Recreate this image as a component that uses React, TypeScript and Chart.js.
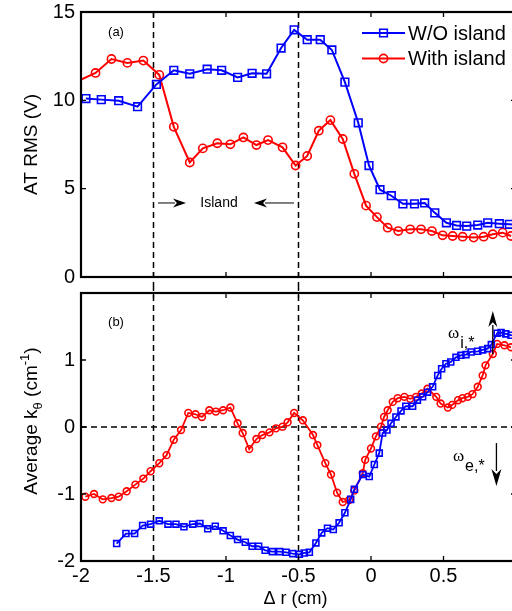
import React, { useEffect, useRef } from 'react';
import { Chart, registerables } from 'chart.js';

Chart.register(...registerables);

const SANS = '"Liberation Sans", Arial, Helvetica, sans-serif';
const SERIF = '"Liberation Serif", "Times New Roman", serif';
const BLUE = '#0000ff';
const RED = '#ff0000';

// ---------- data ----------
const seriesNames = ['W/O island', 'With island'];
const xTicks = [-2, -1.5, -1, -0.5, 0, 0.5, 1];
const islandEdges = [-1.5, -0.5];
const topYTicks = [0, 5, 10, 15];
const botYTicks = [-2, -1, 0, 1, 2];

// (a) AT RMS (V)
const topBlueX = [-1.966, -1.86, -1.74, -1.61, -1.48, -1.36, -1.25, -1.13, -1.03, -0.92, -0.82, -0.72, -0.62, -0.53, -0.44, -0.35, -0.27, -0.18, -0.088, -0.014, 0.062, 0.14, 0.22, 0.30, 0.37, 0.44, 0.52, 0.59, 0.66, 0.736, 0.805, 0.885, 0.954, 1.02];
const topBlueY = [10.1, 10.04, 9.98, 9.64, 10.9, 11.7, 11.5, 11.76, 11.7, 11.3, 11.53, 11.5, 12.96, 13.99, 13.43, 13.43, 12.85, 11.03, 8.73, 6.31, 4.94, 4.6, 4.14, 4.14, 4.19, 3.63, 3.07, 2.92, 2.88, 2.94, 3.07, 3.02, 2.98, 2.95];
const topRedX = [-2.07, -1.90, -1.79, -1.68, -1.57, -1.46, -1.36, -1.25, -1.16, -1.06, -0.97, -0.88, -0.79, -0.71, -0.61, -0.52, -0.44, -0.36, -0.28, -0.195, -0.115, -0.034, 0.041, 0.115, 0.188, 0.27, 0.345, 0.42, 0.494, 0.563, 0.632, 0.708, 0.777, 0.84, 0.908, 0.966];
const topRedY = [10.9, 11.55, 12.34, 12.12, 12.25, 11.44, 8.5, 6.48, 7.28, 7.57, 7.51, 7.9, 7.47, 7.75, 7.34, 6.31, 6.85, 8.28, 8.88, 7.81, 5.84, 4.04, 3.39, 2.79, 2.6, 2.7, 2.7, 2.6, 2.36, 2.32, 2.28, 2.23, 2.28, 2.42, 2.51, 2.32];

// (b) Average k_theta (cm^-1)
const botBlueX = [-1.754, -1.69, -1.63, -1.575, -1.52, -1.46, -1.40, -1.345, -1.29, -1.23, -1.18, -1.126, -1.074, -1.02, -0.97, -0.92, -0.867, -0.82, -0.775, -0.73, -0.68, -0.63, -0.586, -0.54, -0.494, -0.46, -0.425, -0.38, -0.34, -0.30, -0.26, -0.22, -0.18, -0.14, -0.115, -0.057, -0.012, 0.023, 0.057, 0.08, 0.11, 0.138, 0.172, 0.207, 0.24, 0.287, 0.32, 0.356, 0.39, 0.425, 0.46, 0.487, 0.517, 0.55, 0.586, 0.62, 0.655, 0.69, 0.736, 0.77, 0.805, 0.83, 0.87, 0.897, 0.93, 0.966, 1.0];
const botBlueY = [-1.74, -1.59, -1.59, -1.47, -1.45, -1.40, -1.45, -1.45, -1.49, -1.45, -1.44, -1.52, -1.48, -1.55, -1.62, -1.68, -1.72, -1.78, -1.78, -1.84, -1.86, -1.86, -1.87, -1.89, -1.9, -1.88, -1.87, -1.73, -1.58, -1.51, -1.53, -1.43, -1.28, -1.08, -0.93, -0.71, -0.74, -0.56, -0.39, -0.09, -0.045, 0.055, 0.15, 0.24, 0.31, 0.31, 0.40, 0.45, 0.52, 0.6, 0.77, 0.87, 0.945, 0.97, 1.04, 1.07, 1.08, 1.12, 1.13, 1.15, 1.17, 1.23, 1.40, 1.41, 1.39, 1.37, 1.36];
const botRedX = [-1.97, -1.91, -1.85, -1.79, -1.74, -1.685, -1.625, -1.57, -1.52, -1.46, -1.41, -1.36, -1.31, -1.26, -1.21, -1.166, -1.115, -1.07, -1.02, -0.97, -0.92, -0.885, -0.84, -0.79, -0.75, -0.70, -0.655, -0.61, -0.575, -0.53, -0.47, -0.40, -0.37, -0.315, -0.276, -0.234, -0.195, -0.15, -0.115, -0.057, -0.04, 0.0, 0.034, 0.069, 0.09, 0.115, 0.15, 0.184, 0.23, 0.27, 0.31, 0.35, 0.39, 0.45, 0.48, 0.53, 0.56, 0.60, 0.63, 0.667, 0.70, 0.736, 0.77, 0.79, 0.84, 0.87, 0.92, 0.966];
const botRedY = [-1.04, -1.0, -1.08, -1.06, -1.04, -0.96, -0.86, -0.77, -0.66, -0.54, -0.42, -0.19, -0.045, 0.21, 0.19, 0.15, 0.25, 0.23, 0.25, 0.29, 0.055, -0.09, -0.33, -0.18, -0.12, -0.08, -0.02, 0.005, 0.07, 0.21, 0.10, -0.12, -0.27, -0.54, -0.71, -0.98, -1.12, -1.09, -0.95, -0.69, -0.49, -0.32, -0.14, 0.005, 0.15, 0.25, 0.375, 0.43, 0.45, 0.42, 0.45, 0.5, 0.57, 0.45, 0.35, 0.29, 0.33, 0.40, 0.43, 0.45, 0.49, 0.6, 0.77, 0.92, 1.09, 1.24, 1.22, 1.19];

const zip = (xs: number[], ys: number[]) => xs.map((x, i) => ({ x, y: ys[i] }));

// ---------- layout ----------
const W = 525;
const TOP_H = 285;
const BOT_H = 326;
const PLOT_LEFT = 81;
const PLOT_RIGHT = 516;

function arrow(ctx: CanvasRenderingContext2D, x1: number, y1: number, x2: number, y2: number, headLen: number, halfW: number) {
  const ang = Math.atan2(y2 - y1, x2 - x1);
  const c = Math.cos(ang), s = Math.sin(ang);
  const bx = x2 - headLen * c, by = y2 - headLen * s;
  ctx.beginPath();
  ctx.moveTo(x1, y1);
  ctx.lineTo(bx + 2 * c, by + 2 * s);
  ctx.stroke();
  ctx.beginPath();
  ctx.moveTo(x2, y2);
  ctx.lineTo(bx - halfW * s, by + halfW * c);
  ctx.lineTo(bx + headLen * 0.3 * c, by + headLen * 0.3 * s);
  ctx.lineTo(bx + halfW * s, by - halfW * c);
  ctx.closePath();
  ctx.fill();
}

type Piece = { text: string; size: number; dy: number; family?: string };
function rotatedPieces(ctx: CanvasRenderingContext2D, cx: number, cy: number, pieces: Piece[]) {
  ctx.save();
  ctx.translate(cx, cy);
  ctx.rotate(-Math.PI / 2);
  ctx.textBaseline = 'alphabetic';
  ctx.textAlign = 'left';
  ctx.fillStyle = '#000';
  let total = 0;
  for (const p of pieces) {
    ctx.font = `${p.size}px ${p.family || SANS}`;
    total += ctx.measureText(p.text).width;
  }
  let x = -total / 2;
  for (const p of pieces) {
    ctx.font = `${p.size}px ${p.family || SANS}`;
    ctx.fillText(p.text, x, p.dy);
    x += ctx.measureText(p.text).width;
  }
  ctx.restore();
}

function frameAndTicks(chart: any, yTicks: number[]) {
  const { ctx, chartArea: a } = chart;
  const xs = chart.scales.x, ys = chart.scales.y;
  ctx.save();
  ctx.strokeStyle = '#000';
  ctx.lineWidth = 1.3;
  ctx.beginPath();
  for (const v of xTicks) {
    const px = xs.getPixelForValue(v);
    ctx.moveTo(px, a.bottom); ctx.lineTo(px, a.bottom - 5);
    ctx.moveTo(px, a.top); ctx.lineTo(px, a.top + 5);
  }
  for (const v of yTicks) {
    const py = ys.getPixelForValue(v);
    ctx.moveTo(a.left, py); ctx.lineTo(a.left + 5, py);
    ctx.moveTo(a.right, py); ctx.lineTo(a.right - 5, py);
  }
  ctx.stroke();
  ctx.lineWidth = 2.2;
  ctx.strokeRect(a.left, a.top, a.right - a.left, a.bottom - a.top);
  ctx.restore();
}

function dashedVerticals(chart: any, y1: number, y2: number) {
  const { ctx } = chart;
  const xs = chart.scales.x;
  ctx.save();
  ctx.strokeStyle = '#000';
  ctx.lineWidth = 1.5;
  ctx.setLineDash([6, 4]);
  ctx.beginPath();
  for (const v of islandEdges) {
    const px = xs.getPixelForValue(v);
    ctx.moveTo(px, y1); ctx.lineTo(px, y2);
  }
  ctx.stroke();
  ctx.restore();
}

function drawMarker(ctx: CanvasRenderingContext2D, style: string, x: number, y: number, r: number, color: string) {
  ctx.save();
  ctx.strokeStyle = color;
  ctx.lineWidth = 1.6;
  ctx.beginPath();
  if (style === 'rect') {
    const s = Math.SQRT1_2 * r;
    ctx.rect(x - s, y - s, 2 * s, 2 * s);
  } else {
    ctx.arc(x, y, r, 0, Math.PI * 2);
  }
  ctx.stroke();
  ctx.restore();
}

function omegaLabel(ctx: CanvasRenderingContext2D, x: number, y: number, sub: string, dy: number) {
  ctx.textAlign = 'left';
  ctx.textBaseline = 'alphabetic';
  ctx.font = `17px ${SERIF}`;
  ctx.fillText('\u03c9', x, y);
  const w = ctx.measureText('\u03c9').width;
  ctx.font = `16px ${SANS}`;
  ctx.fillText(sub, x + w + 1, y + dy);
}

const topPlugin = {
  id: 'topDecor',
  beforeDatasetsDraw(chart: any) {
    dashedVerticals(chart, chart.chartArea.top, chart.height);
  },
  afterDraw(chart: any) {
    const { ctx, chartArea: a } = chart;
    const xs = chart.scales.x, ys = chart.scales.y;
    frameAndTicks(chart, topYTicks);
    ctx.save();
    ctx.fillStyle = '#000';
    ctx.strokeStyle = '#000';
    ctx.font = `13px ${SANS}`;
    ctx.textAlign = 'center';
    ctx.textBaseline = 'middle';
    ctx.fillText('(a)', 116, 32);
    const iy = ys.getPixelForValue(4.19);
    ctx.font = `14px ${SANS}`;
    ctx.fillText('Island', xs.getPixelForValue(-1.048), iy);
    ctx.lineWidth = 1;
    arrow(ctx, xs.getPixelForValue(-1.469), iy, xs.getPixelForValue(-1.276), iy, 13, 4.5);
    arrow(ctx, xs.getPixelForValue(-0.531), iy, xs.getPixelForValue(-0.807), iy, 13, 4.5);
    rotatedPieces(ctx, 37, (a.top + a.bottom) / 2, [{ text: 'AT RMS (V)', size: 19, dy: 0 }]);
    const ds = chart.data.datasets;
    ds.forEach((d: any, i: number) => {
      const ly = 33 + i * 25.5;
      ctx.save();
      ctx.strokeStyle = d.borderColor;
      ctx.lineWidth = 2;
      ctx.beginPath();
      ctx.moveTo(362, ly); ctx.lineTo(405, ly);
      ctx.stroke();
      ctx.restore();
      drawMarker(ctx, d.pointStyle, 383.5, ly, d.pointRadius, d.borderColor);
      ctx.fillStyle = '#000';
      ctx.font = `20px ${SANS}`;
      ctx.textAlign = 'left';
      ctx.textBaseline = 'middle';
      ctx.fillText(d.label, 408, ly + 1);
    });
    ctx.restore();
  },
};

const botPlugin = {
  id: 'botDecor',
  beforeDatasetsDraw(chart: any) {
    const { ctx, chartArea: a } = chart;
    dashedVerticals(chart, 0, a.bottom);
    const py = chart.scales.y.getPixelForValue(0);
    ctx.save();
    ctx.strokeStyle = '#000';
    ctx.lineWidth = 1.5;
    ctx.setLineDash([6, 4]);
    ctx.beginPath();
    ctx.moveTo(a.left, py); ctx.lineTo(a.right, py);
    ctx.stroke();
    ctx.restore();
  },
  afterDraw(chart: any) {
    const { ctx, chartArea: a } = chart;
    const xs = chart.scales.x, ys = chart.scales.y;
    frameAndTicks(chart, botYTicks);
    ctx.save();
    ctx.fillStyle = '#000';
    ctx.strokeStyle = '#000';
    ctx.font = `13px ${SANS}`;
    ctx.textAlign = 'center';
    ctx.textBaseline = 'middle';
    ctx.fillText('(b)', 116, 37);
    omegaLabel(ctx, xs.getPixelForValue(0.531), ys.getPixelForValue(1.33), 'i,*', 10);
    omegaLabel(ctx, xs.getPixelForValue(0.565), ys.getPixelForValue(-0.5), 'e,*', 10);
    ctx.lineWidth = 1.3;
    arrow(ctx, xs.getPixelForValue(0.84), ys.getPixelForValue(1.09), xs.getPixelForValue(0.84), ys.getPixelForValue(1.73), 16, 4.5);
    arrow(ctx, xs.getPixelForValue(0.865), ys.getPixelForValue(-0.24), xs.getPixelForValue(0.865), ys.getPixelForValue(-0.88), 17, 5);
    ctx.font = `18px ${SANS}`;
    ctx.textAlign = 'center';
    ctx.textBaseline = 'middle';
    ctx.fillText('\u0394 r (cm)', (a.left + a.right) / 2 - 3, 314);
    rotatedPieces(ctx, 37, (a.top + a.bottom) / 2 - 6, [
      { text: 'Average k', size: 19, dy: 0 },
      { text: '\u03b8', size: 13, dy: 5 },
      { text: ' (cm', size: 19, dy: 0 },
      { text: '-1', size: 13, dy: -8 },
      { text: ')', size: 19, dy: 0 },
    ]);
    ctx.restore();
  },
};

function datasetStyle(color: string, style: string, radius: number, lw: number) {
  return {
    borderColor: color,
    backgroundColor: 'transparent',
    borderWidth: lw,
    pointStyle: style,
    pointRadius: radius,
    pointBorderWidth: 1.6,
    pointBorderColor: color,
    pointBackgroundColor: 'transparent',
    tension: 0,
  };
}

const noPad = (s: any) => {
  s.paddingTop = 0;
  s.paddingBottom = 0;
  s.paddingLeft = 0;
  s.paddingRight = 0;
};

export default function App() {
  const topRef = useRef<HTMLCanvasElement>(null);
  const botRef = useRef<HTMLCanvasElement>(null);

  useEffect(() => {
    const tickFont = { family: SANS, size: 20 };
    const top = new Chart(topRef.current as HTMLCanvasElement, {
      type: 'line',
      data: {
        datasets: [
          { label: seriesNames[0], data: zip(topBlueX, topBlueY), ...datasetStyle(BLUE, 'rect', 5.4, 2) } as any,
          { label: seriesNames[1], data: zip(topRedX, topRedY), ...datasetStyle(RED, 'circle', 4.1, 2) } as any,
        ],
      },
      options: {
        responsive: false,
        animation: false,
        devicePixelRatio: 1,
        events: [],
        layout: { padding: { top: 12, right: W - PLOT_RIGHT, left: 0, bottom: 0 } },
        plugins: { legend: { display: false }, tooltip: { enabled: false } },
        scales: {
          x: {
            type: 'linear', min: -2, max: 1,
            grid: { display: false, drawTicks: false }, border: { display: false },
            ticks: { display: false },
            afterFit: (s: any) => { s.height = 8; noPad(s); },
          },
          y: {
            type: 'linear', min: 0, max: 15,
            grid: { display: false, drawTicks: false }, border: { display: false },
            ticks: { stepSize: 5, padding: 6, color: '#000', font: tickFont, callback: (v: any) => String(v) },
            afterFit: (s: any) => { s.width = PLOT_LEFT; noPad(s); },
          },
        },
      } as any,
      plugins: [topPlugin],
    });

    const bot = new Chart(botRef.current as HTMLCanvasElement, {
      type: 'line',
      data: {
        datasets: [
          { label: seriesNames[0], data: zip(botBlueX, botBlueY), ...datasetStyle(BLUE, 'rect', 4.2, 1.8) } as any,
          { label: seriesNames[1], data: zip(botRedX, botRedY), ...datasetStyle(RED, 'circle', 3.4, 1.8) } as any,
        ],
      },
      options: {
        responsive: false,
        animation: false,
        devicePixelRatio: 1,
        events: [],
        layout: { padding: { top: 8, right: W - PLOT_RIGHT, left: 0, bottom: 0 } },
        plugins: { legend: { display: false }, tooltip: { enabled: false } },
        scales: {
          x: {
            type: 'linear', min: -2, max: 1,
            grid: { display: false, drawTicks: false }, border: { display: false },
            ticks: { stepSize: 0.5, padding: 3, color: '#000', font: tickFont, maxRotation: 0, autoSkip: false, callback: (v: any) => String(v) },
            afterBuildTicks: (s: any) => { s.ticks = xTicks.map((v) => ({ value: v })); },
            afterFit: (s: any) => { s.height = 50; noPad(s); },
          },
          y: {
            type: 'linear', min: -2, max: 2,
            grid: { display: false, drawTicks: false }, border: { display: false },
            ticks: { stepSize: 1, padding: 6, color: '#000', font: tickFont, callback: (v: any) => (v === 2 ? '' : String(v)) },
            afterBuildTicks: (s: any) => { s.ticks = botYTicks.map((v) => ({ value: v })); },
            afterFit: (s: any) => { s.width = PLOT_LEFT; noPad(s); },
          },
        },
      } as any,
      plugins: [botPlugin],
    });

    return () => {
      top.destroy();
      bot.destroy();
    };
  }, []);

  return (
    <div style={{ position: 'fixed', left: 0, top: 0, width: 512, height: 611, overflow: 'hidden', background: '#fff' }}>
      <canvas ref={topRef} width={W} height={TOP_H} style={{ position: 'absolute', left: 0, top: 0, width: W, height: TOP_H }} />
      <canvas ref={botRef} width={W} height={BOT_H} style={{ position: 'absolute', left: 0, top: TOP_H, width: W, height: BOT_H }} />
    </div>
  );
}
